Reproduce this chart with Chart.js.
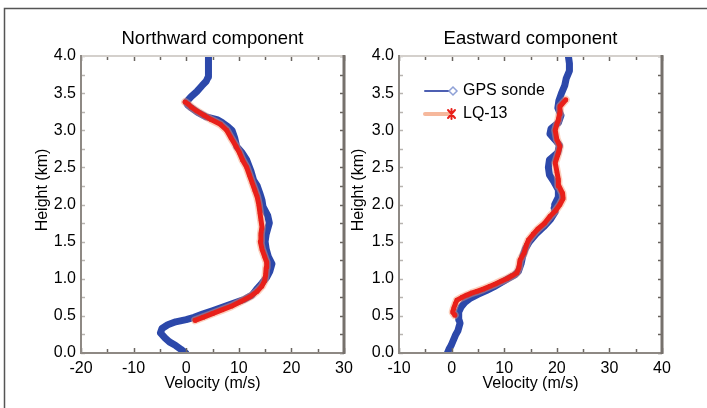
<!DOCTYPE html>
<html><head><meta charset="utf-8">
<script src="https://cdn.jsdelivr.net/npm/chart.js@4.4.1/dist/chart.umd.min.js"></script>
<style>
html,body{margin:0;padding:0;background:#fff;}
#wrap{position:relative;width:707px;height:408px;overflow:hidden;background:#fff;}
.c{position:absolute;left:0;top:0;width:707px;height:408px;}
</style></head><body>
<div id="wrap"><div class="c"><canvas id="c1" width="707" height="408"></canvas></div><div class="c"><canvas id="c2" width="707" height="408"></canvas></div></div>
<script>
// ---------- data (height km, velocity m/s) ----------
const northGpsHeight = [0.00,0.05,0.10,0.15,0.20,0.27,0.33,0.38,0.42,0.45,0.48,0.52,0.57,0.62,0.67,0.72,0.78,0.85,0.94,1.02,1.10,1.20,1.30,1.40,1.50,1.60,1.75,1.85,1.97,2.06,2.15,2.25,2.33,2.45,2.60,2.70,2.78,2.90,3.00,3.05,3.10,3.14,3.18,3.24,3.30,3.34,3.38,3.45,3.52,3.60,3.66,3.72,3.80,3.90,4.00];
const northGpsVel    = [-0.1,-1.0,-2.0,-3.2,-4.0,-4.9,-4.6,-3.5,-2.0,0.0,1.5,3.0,5.0,7.0,9.0,11.0,12.5,13.3,14.4,15.3,15.9,16.3,15.6,15.2,15.0,15.2,15.8,15.5,14.6,14.4,14.0,13.5,12.8,12.3,11.5,10.6,9.6,9.2,8.7,7.9,6.9,6.0,3.8,2.2,1.0,0.3,0.0,0.9,2.0,3.0,3.8,4.2,4.3,4.2,4.2];

const northLqHeight = [0.44,0.48,0.53,0.58,0.63,0.69,0.76,0.83,0.90,0.97,1.05,1.15,1.22,1.30,1.40,1.50,1.60,1.70,1.80,1.90,2.00,2.10,2.20,2.30,2.40,2.50,2.60,2.70,2.78,2.90,3.00,3.08,3.14,3.20,3.26,3.31,3.35,3.38];
const northLqVel    = [1.7,3.2,5.0,6.8,8.6,10.3,12.2,13.5,14.4,14.9,15.1,15.2,15.3,14.9,14.4,14.1,14.2,14.4,14.2,14.0,13.8,13.5,13.0,12.5,12.0,11.5,10.7,10.1,9.5,8.5,7.7,6.5,4.8,3.4,2.0,1.0,0.4,-0.2];

const eastGpsHeight = [0.00,0.05,0.10,0.15,0.20,0.25,0.30,0.35,0.40,0.45,0.50,0.55,0.62,0.68,0.74,0.79,0.84,0.89,0.94,1.00,1.05,1.10,1.20,1.30,1.40,1.50,1.60,1.70,1.80,1.90,1.95,2.00,2.10,2.20,2.30,2.40,2.50,2.60,2.70,2.80,2.87,2.95,3.02,3.10,3.20,3.30,3.40,3.50,3.60,3.70,3.80,3.90,4.00];
const eastGpsVel    = [-0.8,-0.5,-0.1,0.2,0.5,0.8,1.2,1.4,1.6,1.4,1.3,1.4,1.8,2.5,3.6,5.0,6.6,8.0,9.2,10.7,12.0,12.7,13.2,13.5,14.0,14.8,16.0,17.5,18.8,19.7,19.5,19.6,20.3,20.3,19.5,18.6,18.4,18.6,20.2,20.5,19.7,18.7,18.9,20.3,20.8,20.2,20.4,20.9,21.5,21.8,22.4,22.4,22.2];

const eastLqHeight = [0.51,0.55,0.60,0.66,0.71,0.75,0.78,0.81,0.83,0.86,0.90,0.93,0.97,1.00,1.04,1.08,1.15,1.25,1.35,1.45,1.52,1.60,1.67,1.75,1.84,1.92,2.00,2.08,2.15,2.25,2.33,2.45,2.56,2.67,2.78,2.88,3.00,3.08,3.14,3.22,3.32,3.41];
const eastLqVel    = [0.6,0.2,0.4,0.7,1.0,2.0,2.9,3.9,4.8,6.0,7.3,8.3,9.5,10.5,11.5,12.4,12.8,13.0,13.8,14.2,14.6,15.5,16.4,17.7,18.7,19.8,20.6,21.2,21.1,20.4,20.3,20.0,19.7,20.2,20.6,20.0,19.7,20.0,20.3,20.5,20.6,21.7];

const northXRange = [-20, 30];
const eastXRange = [-10, 40];
const seriesNames = ['GPS sonde', 'LQ-13'];
const panelTitles = ['Northward component', 'Eastward component'];
const xAxisLabel = 'Velocity (m/s)';
const yAxisLabel = 'Height (km)';

// ---------- helpers ----------
const FONT = '"Liberation Sans", Arial, Helvetica, sans-serif';
const BLUE = '#2c48aa';
const RED = '#e8201a';
const HALO = 'rgba(247,150,110,0.45)';
const pts = (hs, vs) => hs.map((h, i) => ({x: vs[i], y: h}));

const decor = {
  id: 'decor',
  afterDraw(chart, args, o) {
    const {ctx, chartArea: a, scales} = chart;
    const xs = scales.x, ys = scales.y;
    ctx.save();
    ctx.lineCap = 'butt';
    for (let v = xs.min; v <= xs.max + 1e-9; v += 5) {
      const px = Math.round(xs.getPixelForValue(v)) + 0.5;
      const len = (Math.abs(v % 10) < 1e-9) ? 5 : 4;
      ctx.strokeStyle = '#6a6560'; ctx.lineWidth = 1.5;
      ctx.beginPath(); ctx.moveTo(px, a.bottom); ctx.lineTo(px, a.bottom - len); ctx.stroke();
      ctx.beginPath(); ctx.moveTo(px, a.top); ctx.lineTo(px, a.top + len); ctx.stroke();
    }
    for (let h = 0; h <= 4.0001; h += 0.25) {
      const py = Math.round(ys.getPixelForValue(h)) + 0.5;
      ctx.lineWidth = 1.5;
      ctx.strokeStyle = '#b8b4b0';
      ctx.beginPath(); ctx.moveTo(a.left, py); ctx.lineTo(a.left + 4, py); ctx.stroke();
      ctx.strokeStyle = '#66615c';
      ctx.beginPath(); ctx.moveTo(a.right, py); ctx.lineTo(a.right - 4, py); ctx.stroke();
    }
    ctx.strokeStyle = '#d4d0cc'; ctx.lineWidth = 2;
    ctx.beginPath(); ctx.moveTo(a.left, a.top); ctx.lineTo(a.right, a.top); ctx.stroke();
    ctx.strokeStyle = '#8e8984'; ctx.lineWidth = 2;
    ctx.beginPath(); ctx.moveTo(a.left, a.top - 1); ctx.lineTo(a.left, a.bottom); ctx.lineTo(a.right, a.bottom); ctx.stroke();
    ctx.strokeStyle = '#76716c'; ctx.lineWidth = 3;
    ctx.beginPath(); ctx.moveTo(a.right, a.top - 1); ctx.lineTo(a.right, a.bottom + 1); ctx.stroke();
    ctx.fillStyle = '#000';
    ctx.textAlign = 'center'; ctx.textBaseline = 'middle';
    ctx.font = '18.5px ' + FONT;
    ctx.fillText(o.title, (a.left + a.right) / 2, 39);
    ctx.font = '16px ' + FONT;
    ctx.fillText(xAxisLabel, (a.left + a.right) / 2, 384);
    ctx.save();
    ctx.translate(o.yLabelX, 190); ctx.rotate(-Math.PI / 2);
    ctx.fillText(yAxisLabel, 0, 0);
    ctx.restore();
    if (o.outer) {
      ctx.strokeStyle = '#555'; ctx.lineWidth = 1.5;
      ctx.beginPath(); ctx.moveTo(4.5, 408); ctx.lineTo(4.5, 8.5); ctx.lineTo(707, 8.5); ctx.stroke();
    }
    if (o.legend) {
      ctx.lineCap = 'round';
      ctx.strokeStyle = '#4d5fb2'; ctx.lineWidth = 2;
      ctx.beginPath(); ctx.moveTo(425, 91); ctx.lineTo(450, 91); ctx.stroke();
      ctx.strokeStyle = '#8ea0d6'; ctx.fillStyle = '#fff'; ctx.lineWidth = 1.5;
      ctx.beginPath(); ctx.moveTo(453, 87); ctx.lineTo(457, 91); ctx.lineTo(453, 95); ctx.lineTo(449, 91); ctx.closePath(); ctx.fill(); ctx.stroke();
      ctx.strokeStyle = '#f6b89c'; ctx.lineWidth = 4;
      ctx.beginPath(); ctx.moveTo(425, 114); ctx.lineTo(450, 114); ctx.stroke();
      ctx.strokeStyle = RED; ctx.lineWidth = 2;
      ctx.beginPath();
      ctx.moveTo(448, 110); ctx.lineTo(455, 118); ctx.moveTo(455, 110); ctx.lineTo(448, 118);
      ctx.moveTo(451.5, 109); ctx.lineTo(451.5, 119);
      ctx.stroke();
      ctx.fillStyle = '#000'; ctx.textAlign = 'left'; ctx.font = '16px ' + FONT;
      ctx.fillText(seriesNames[0], 463, 91);
      ctx.fillText(seriesNames[1], 463, 114);
    }
    ctx.restore();
  }
};

function makeChart(id, gpsH, gpsV, lqH, lqV, xr, pad, yW, extra) {
  return new Chart(document.getElementById(id), {
    type: 'scatter',
    data: {
      datasets: [
        {label: seriesNames[1], data: pts(lqH, lqV), showLine: true, borderColor: RED, borderWidth: 5,
         pointRadius: 2.5, pointStyle: 'crossRot', pointBorderColor: RED, pointBorderWidth: 1.5,
         borderJoinStyle: 'round', borderCapStyle: 'round', order: 0},
        {label: seriesNames[1] + ' halo', data: pts(lqH, lqV), showLine: true, borderColor: HALO, borderWidth: 8,
         pointRadius: 0, borderJoinStyle: 'round', borderCapStyle: 'round', order: 1},
        {label: seriesNames[0], data: pts(gpsH, gpsV), showLine: true, borderColor: BLUE, borderWidth: 7,
         pointRadius: 0, borderJoinStyle: 'round', borderCapStyle: 'round', order: 2}
      ]
    },
    options: {
      responsive: false, animation: false, devicePixelRatio: 1, events: [],
      layout: {padding: pad},
      plugins: {legend: {display: false}, tooltip: {enabled: false}, title: {display: false}, decor: extra},
      scales: {
        x: {type: 'linear', min: xr[0], max: xr[1],
            grid: {display: false, drawTicks: false}, border: {display: false},
            ticks: {stepSize: 10, padding: 6, color: '#000', font: {family: FONT, size: 16}},
            afterFit: s => { s.height = 55; }},
        y: {type: 'linear', min: 0, max: 4,
            grid: {display: false, drawTicks: false}, border: {display: false},
            ticks: {stepSize: 0.5, padding: 5, color: '#000', font: {family: FONT, size: 16},
                    callback: v => Number(v).toFixed(1)},
            afterFit: s => { s.width = yW; }}
      }
    },
    plugins: [decor]
  });
}

makeChart('c1', northGpsHeight, northGpsVel, northLqHeight, northLqVel, northXRange,
  {left: 0, right: 707 - 344, top: 56, bottom: 0}, 81,
  {title: panelTitles[0], yLabelX: 43, outer: true, legend: false});
makeChart('c2', eastGpsHeight, eastGpsVel, eastLqHeight, eastLqVel, eastXRange,
  {left: 339, right: 707 - 662, top: 56, bottom: 0}, 60,
  {title: panelTitles[1], yLabelX: 359, outer: false, legend: true});
</script>
</body></html>
